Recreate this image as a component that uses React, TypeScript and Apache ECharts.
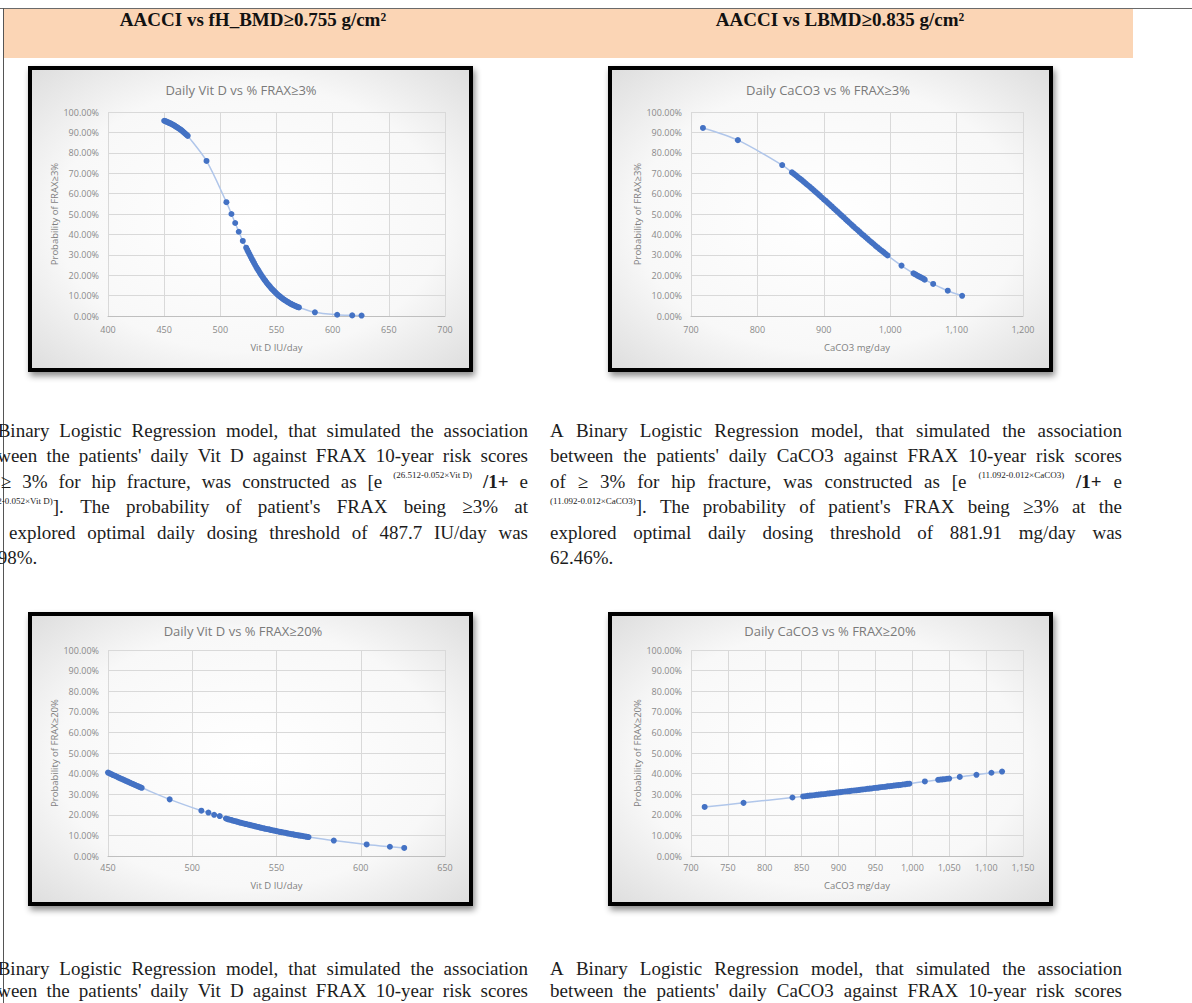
import React, { useEffect, useRef } from "react";
import * as echarts from "echarts";

const PAGE_W = 1192;
const PAGE_H = 1003;

// ---------- Daily Vit D vs % FRAX≥3% ----------
const vitDTicks3 = [400, 450, 500, 550, 600, 650, 700];
const vitD3Dose = [
  450, 451, 452, 453, 454, 455, 456, 457, 458, 459, 460, 461, 462, 463, 464, 465, 466, 467, 468, 469, 470, 471,
  487.7, 505.4, 509.9, 513.2, 516.4, 520.0,
  523, 524, 525, 526, 527, 528, 529, 530, 531, 532, 533, 534, 535, 536, 537, 538, 539, 540, 541, 542,
  543, 544, 545, 546, 547, 548, 549, 550, 551, 552, 553, 554, 555, 556, 557, 558, 559, 560, 561, 562,
  563, 564, 565, 566, 567, 568, 569, 570,
  584.2, 604.0, 617.4, 625.7,
];
const vitD3Prob = [
  95.7, 95.5, 95.3, 95.0, 94.8, 94.5, 94.3, 94.0, 93.7, 93.4, 93.0, 92.7, 92.3, 91.9, 91.6, 91.2, 90.7, 90.3, 89.8, 89.3, 88.8, 88.3,
  76.0, 55.8, 50.0, 45.6, 41.3, 36.8,
  33.5, 32.4, 31.3, 30.2, 29.1, 28.0, 27.0, 26.0, 25.0, 24.0, 23.1, 22.2, 21.3, 20.4, 19.6, 18.8, 18.0, 17.3, 16.5, 15.8,
  15.1, 14.5, 13.8, 13.2, 12.7, 12.1, 11.6, 11.0, 10.5, 10.0, 9.6, 9.1, 8.7, 8.3, 7.9, 7.6, 7.2, 6.9, 6.5, 6.2,
  5.9, 5.6, 5.4, 5.1, 4.9, 4.6, 4.4, 4.2,
  1.8, 0.6, 0.3, 0.2,
];

// ---------- Daily CaCO3 vs % FRAX≥3% ----------
const caco3Ticks3 = [700, 800, 900, 1000, 1100, 1200];
const caco3Dose3 = [
  718.0, 770.6, 837.3,
  852, 855, 858, 861, 864, 867, 870, 873, 876, 879, 882, 885, 888, 891, 894, 897, 900, 903, 906, 909,
  912, 915, 918, 921, 924, 927, 930, 933, 936, 939, 942, 945, 948, 951, 954, 957, 960, 963, 966, 969,
  972, 975, 978, 981, 984, 987, 990, 993, 996,
  1017, 1035, 1038, 1041, 1044, 1047, 1050, 1052, 1064.7, 1086.7, 1108.3,
];
const caco3Prob3 = [
  92.2, 86.2, 74.0,
  70.4, 69.7, 68.9, 68.1, 67.3, 66.6, 65.7, 64.9, 64.1, 63.3, 62.4, 61.6, 60.7, 59.9, 59.0, 58.1, 57.2, 56.4, 55.5, 54.6,
  53.7, 52.8, 51.9, 51.0, 50.1, 49.2, 48.3, 47.4, 46.5, 45.6, 44.7, 43.8, 42.9, 42.1, 41.2, 40.3, 39.5, 38.6, 37.8, 36.9,
  36.1, 35.3, 34.4, 33.6, 32.8, 32.0, 31.3, 30.5, 29.7,
  24.7, 20.9, 20.4, 19.8, 19.3, 18.8, 18.3, 17.8, 15.7, 12.4, 9.9,
];

// ---------- Daily Vit D vs % FRAX≥20% ----------
const vitDTicks20 = [450, 500, 550, 600, 650];
const vitD20Dose = [
  450, 451, 452, 453, 454, 455, 456, 457, 458, 459, 460, 461, 462, 463, 464, 465, 466, 467, 468, 469, 470,
  486.6, 505.4, 509.6, 513.0, 516.3,
  520, 521, 522, 523, 524, 525, 526, 527, 528, 529, 530, 531, 532, 533, 534, 535, 536, 537, 538, 539,
  540, 541, 542, 543, 544, 545, 546, 547, 548, 549, 550, 551, 552, 553, 554, 555, 556, 557, 558, 559,
  560, 561, 562, 563, 564, 565, 566, 567, 568, 569,
  584.0, 603.5, 617.3, 625.8,
];
const vitD20Prob = [
  40.5, 40.1, 39.7, 39.3, 39.0, 38.6, 38.2, 37.8, 37.4, 37.1, 36.7, 36.3, 36.0, 35.6, 35.2, 34.9, 34.5, 34.1, 33.8, 33.4, 33.1,
  27.5, 22.0, 21.1, 20.0, 19.4,
  18.2, 17.9, 17.7, 17.5, 17.2, 17.0, 16.8, 16.6, 16.3, 16.1, 15.9, 15.7, 15.5, 15.3, 15.1, 14.9, 14.7, 14.5, 14.3, 14.1,
  13.9, 13.7, 13.5, 13.3, 13.1, 13.0, 12.8, 12.6, 12.4, 12.3, 12.1, 11.9, 11.7, 11.6, 11.4, 11.3, 11.1, 10.9, 10.8, 10.6,
  10.5, 10.3, 10.2, 10.0, 9.9, 9.8, 9.6, 9.5, 9.3, 9.2,
  7.5, 5.6, 4.5, 3.9,
];

// ---------- Daily CaCO3 vs % FRAX≥20% ----------
const caco3Ticks20 = [700, 750, 800, 850, 900, 950, 1000, 1050, 1100, 1150];
const caco3Dose20 = [
  718.5, 771.2, 837.5,
  852, 855, 858, 861, 864, 867, 870, 873, 876, 879, 882, 885, 888, 891, 894, 897, 900, 903, 906, 909,
  912, 915, 918, 921, 924, 927, 930, 933, 936, 939, 942, 945, 948, 951, 954, 957, 960, 963, 966, 969,
  972, 975, 978, 981, 984, 987, 990, 993, 996,
  1017, 1035, 1038, 1041, 1044, 1047, 1050, 1064.3, 1086.9, 1107.2, 1121.6,
];
const caco3Prob20 = [
  23.8, 25.8, 28.4,
  28.9, 29.0, 29.2, 29.3, 29.4, 29.5, 29.7, 29.8, 29.9, 30.0, 30.1, 30.3, 30.4, 30.5, 30.6, 30.8, 30.9, 31.0, 31.2, 31.3,
  31.4, 31.5, 31.7, 31.8, 31.9, 32.0, 32.2, 32.3, 32.4, 32.6, 32.7, 32.8, 33.0, 33.1, 33.2, 33.4, 33.5, 33.6, 33.8, 33.9,
  34.0, 34.2, 34.3, 34.4, 34.5, 34.7, 34.8, 35.0, 35.1,
  36.2, 37.0, 37.1, 37.2, 37.3, 37.5, 37.6, 38.4, 39.4, 40.4, 41.0,
];

const probTicks = [0, 10, 20, 30, 40, 50, 60, 70, 80, 90, 100];

// ---------- Page text ----------
const headerLeft = "AACCI vs fH_BMD≥0.755 g/cm²";
const headerRight = "AACCI vs LBMD≥0.835 g/cm²";

// ^{...} marks superscript, **...** marks bold
const paraVitD3 = [
  "A Binary Logistic Regression model, that simulated the association",
  "between the patients' daily Vit D against FRAX 10-year risk scores",
  "of ≥ 3% for hip fracture, was constructed as [e ^{(26.512-0.052×Vit D)} **/1+** e",
  "^{(26.512-0.052×Vit D)}]. The probability of patient's FRAX being ≥3% at",
  "the explored optimal daily dosing threshold of 487.7 IU/day was",
  "75.98%.",
];
const paraCaco3 = [
  "A Binary Logistic Regression model, that simulated the association",
  "between the patients' daily CaCO3 against FRAX 10-year risk scores",
  "of ≥ 3% for hip fracture, was constructed as [e ^{(11.092-0.012×CaCO3)} **/1+** e",
  "^{(11.092-0.012×CaCO3)}]. The probability of patient's FRAX being ≥3% at the",
  "explored optimal daily dosing threshold of 881.91 mg/day was",
  "62.46%.",
];
const paraVitD20 = [
  "A Binary Logistic Regression model, that simulated the association",
  "between the patients' daily Vit D against FRAX 10-year risk scores",
];
const paraCaco20 = [
  "A Binary Logistic Regression model, that simulated the association",
  "between the patients' daily CaCO3 against FRAX 10-year risk scores",
];

const SERIF = '"Liberation Serif", "Times New Roman", serif';
const SANS = '"Open Sans", "Noto Sans", sans-serif';
const BODY_SIZE = 19;
const SUP_SIZE = 9;

type Run = { t: string; sup?: boolean; bold?: boolean };

let measureCtx: CanvasRenderingContext2D | null = null;
function textWidth(t: string, size: number, bold?: boolean) {
  if (!measureCtx) measureCtx = document.createElement("canvas").getContext("2d");
  measureCtx!.font = `${bold ? "bold " : ""}${size}px ${SERIF}`;
  return measureCtx!.measureText(t).width;
}

function tokenize(line: string): Run[][] {
  const kept = line.replace(/\^\{[^}]*\}/g, (m) => m.replace(/ /g, "\u00a0"));
  return kept
    .split(" ")
    .filter(Boolean)
    .map((tok) => {
      const runs: Run[] = [];
      const re = /\^\{([^}]*)\}|\*\*([^*]*)\*\*|([^^*]+)/g;
      let m: RegExpExecArray | null;
      while ((m = re.exec(tok))) {
        if (m[1] !== undefined) runs.push({ t: m[1], sup: true });
        else if (m[2] !== undefined) runs.push({ t: m[2], bold: true });
        else runs.push({ t: m[3] });
      }
      return runs;
    });
}

function runWidth(r: Run) {
  return textWidth(r.t, r.sup ? SUP_SIZE : BODY_SIZE, r.bold);
}

// Justified paragraph made of word-level text elements
function paragraph(lines: string[], x0: number, x1: number, ys: number[], lastJustified: boolean) {
  const out: any[] = [];
  const space = textWidth(" ", BODY_SIZE);
  lines.forEach((line, li) => {
    const tokens = tokenize(line);
    const widths = tokens.map((tk) => tk.reduce((s, r) => s + runWidth(r), 0));
    const total = widths.reduce((a, b) => a + b, 0);
    const justify = li < lines.length - 1 || lastJustified;
    const gap = justify && tokens.length > 1 ? (x1 - x0 - total) / (tokens.length - 1) : space;
    let x = x0;
    tokens.forEach((tk, ti) => {
      let rx = x;
      tk.forEach((r) => {
        out.push({
          type: "text",
          x: rx,
          y: r.sup ? ys[li] - 6 : ys[li],
          silent: true,
          style: {
            text: r.t,
            fill: "#1c1c1c",
            fontSize: r.sup ? SUP_SIZE : BODY_SIZE,
            fontFamily: SERIF,
            fontWeight: r.bold ? "bold" : "normal",
            align: "left",
            verticalAlign: "middle",
          },
        });
        rx += runWidth(r);
      });
      x += widths[ti] + gap;
    });
  });
  return out;
}

type ChartSpec = {
  title: string;
  xName: string;
  yName: string;
  xTicks: number[];
  dose: number[];
  prob: number[];
  thousands: boolean;
  frame: { x: number; y: number; w: number; h: number };
  grid: { left: number; top: number; width: number; height: number };
  titleX: number;
  titleTop: number;
  yNameGap: number;
  xNameGap: number;
  xLabelMargin: number;
};

const specs: ChartSpec[] = [
  {
    title: "Daily Vit D vs % FRAX≥3%",
    xName: "Vit D IU/day",
    yName: "Probability of FRAX≥3%",
    xTicks: vitDTicks3,
    dose: vitD3Dose,
    prob: vitD3Prob,
    thousands: false,
    frame: { x: 30, y: 68, w: 441, h: 302 },
    grid: { left: 108, top: 112, width: 337, height: 204 },
    titleX: 241,
    titleTop: 83,
    yNameGap: 46,
    xNameGap: 26,
    xLabelMargin: 9,
  },
  {
    title: "Daily CaCO3 vs % FRAX≥3%",
    xName: "CaCO3 mg/day",
    yName: "Probability of FRAX≥3%",
    xTicks: caco3Ticks3,
    dose: caco3Dose3,
    prob: caco3Prob3,
    thousands: true,
    frame: { x: 610, y: 68, w: 441, h: 302 },
    grid: { left: 691, top: 112, width: 332, height: 204 },
    titleX: 828,
    titleTop: 83,
    yNameGap: 48,
    xNameGap: 26,
    xLabelMargin: 9,
  },
  {
    title: "Daily Vit D vs % FRAX≥20%",
    xName: "Vit D IU/day",
    yName: "Probability of FRAX≥20%",
    xTicks: vitDTicks20,
    dose: vitD20Dose,
    prob: vitD20Prob,
    thousands: false,
    frame: { x: 30, y: 614, w: 441, h: 290 },
    grid: { left: 108, top: 650, width: 337, height: 206 },
    titleX: 243,
    titleTop: 624,
    yNameGap: 46,
    xNameGap: 24,
    xLabelMargin: 7,
  },
  {
    title: "Daily CaCO3 vs % FRAX≥20%",
    xName: "CaCO3 mg/day",
    yName: "Probability of FRAX≥20%",
    xTicks: caco3Ticks20,
    dose: caco3Dose20,
    prob: caco3Prob20,
    thousands: true,
    frame: { x: 610, y: 614, w: 441, h: 290 },
    grid: { left: 691, top: 650, width: 332, height: 206 },
    titleX: 830,
    titleTop: 624,
    yNameGap: 48,
    xNameGap: 24,
    xLabelMargin: 7,
  },
];

const AXIS_TEXT = "#8a8a8a";
const GRID_LINE = "#d9d9d9";

function buildOption() {
  const grid = specs.map((s) => ({ ...s.grid }));
  const title = specs.map((s) => ({
    text: s.title,
    left: s.titleX,
    top: s.titleTop,
    textAlign: "center",
    padding: 0,
    textStyle: { fontSize: 13, fontWeight: "normal", color: "#7a7a7a", fontFamily: SANS },
  }));
  const xAxis = specs.map((s, i) => ({
    type: "value",
    gridIndex: i,
    min: s.xTicks[0],
    max: s.xTicks[s.xTicks.length - 1],
    interval: s.xTicks[1] - s.xTicks[0],
    name: s.xName,
    nameLocation: "middle",
    nameGap: s.xNameGap,
    nameTextStyle: { fontSize: 9.5, color: "#7f7f7f", fontFamily: SANS },
    axisLine: { show: true, lineStyle: { color: "#bfbfbf", width: 1 } },
    axisTick: { show: false },
    axisLabel: {
      fontSize: 9,
      color: AXIS_TEXT,
      fontFamily: SANS,
      margin: s.xLabelMargin,
      formatter: (v: number) => (s.thousands ? v.toLocaleString("en-US") : String(v)),
    },
    splitLine: { show: true, lineStyle: { color: GRID_LINE, width: 1 } },
  }));
  const yAxis = specs.map((s, i) => ({
    type: "value",
    gridIndex: i,
    min: probTicks[0],
    max: probTicks[probTicks.length - 1],
    interval: probTicks[1] - probTicks[0],
    name: s.yName,
    nameLocation: "middle",
    nameRotate: 90,
    nameGap: s.yNameGap,
    nameTextStyle: { fontSize: 9.5, color: "#7f7f7f", fontFamily: SANS },
    axisLine: { show: false },
    axisTick: { show: false },
    axisLabel: {
      fontSize: 9,
      color: AXIS_TEXT,
      fontFamily: SANS,
      margin: 9,
      formatter: (v: number) => `${v.toFixed(2)}%`,
    },
    splitLine: { show: true, lineStyle: { color: GRID_LINE, width: 1 } },
  }));
  const series = specs.map((s, i) => ({
    type: "line",
    xAxisIndex: i,
    yAxisIndex: i,
    data: s.dose.map((d, k) => [d, s.prob[k]]),
    smooth: 0.3,
    symbol: "circle",
    symbolSize: 6,
    showSymbol: true,
    itemStyle: { color: "#4472c4" },
    lineStyle: { color: "#b0c6ea", width: 1.5 },
    z: 3,
  }));

  const frames = specs.map((s) => ({
    type: "rect",
    z: -10,
    silent: true,
    shape: { x: s.frame.x, y: s.frame.y, width: s.frame.w, height: s.frame.h },
    style: {
      fill: {
        type: "radial",
        x: 0.5,
        y: 0.5,
        r: 0.8,
        colorStops: [
          { offset: 0, color: "#ffffff" },
          { offset: 0.55, color: "#f8f8f8" },
          { offset: 1, color: "#d4d4d4" },
        ],
      },
      stroke: "#000000",
      lineWidth: 4,
      shadowBlur: 6,
      shadowOffsetX: 2,
      shadowOffsetY: 4,
      shadowColor: "rgba(0,0,0,0.45)",
    },
  }));

  const pageDecor: any[] = [
    {
      type: "rect",
      z: -20,
      silent: true,
      shape: { x: 4, y: 9, width: 1129, height: 49 },
      style: { fill: "#fbd5b5" },
    },
    {
      type: "line",
      z: -5,
      silent: true,
      shape: { x1: 0, y1: 8.5, x2: PAGE_W, y2: 8.5 },
      style: { stroke: "#6a6a6a", lineWidth: 1 },
    },
    {
      type: "line",
      z: -5,
      silent: true,
      shape: { x1: 3.5, y1: 8, x2: 3.5, y2: PAGE_H },
      style: { stroke: "#555555", lineWidth: 1 },
    },
    {
      type: "text",
      x: 253,
      y: 19,
      silent: true,
      style: { text: headerLeft, fill: "#111", fontSize: 19, fontWeight: "bold", fontFamily: SERIF, align: "center", verticalAlign: "middle" },
    },
    {
      type: "text",
      x: 840,
      y: 19,
      silent: true,
      style: { text: headerRight, fill: "#111", fontSize: 19, fontWeight: "bold", fontFamily: SERIF, align: "center", verticalAlign: "middle" },
    },
  ];

  const topYs = [430, 455.5, 481, 506.5, 532, 557.5];
  const bottomYs = [968, 990];
  const texts = [
    ...paragraph(paraVitD3, -26, 528, topYs, false),
    ...paragraph(paraCaco3, 550, 1122, topYs, false),
    ...paragraph(paraVitD20, -26, 528, bottomYs, true),
    ...paragraph(paraCaco20, 550, 1122, bottomYs, true),
  ];

  return {
    animation: false,
    backgroundColor: "#ffffff",
    title,
    grid,
    xAxis,
    yAxis,
    series,
    graphic: { elements: [...pageDecor, ...frames, ...texts] },
  };
}

export default function App() {
  const ref = useRef<HTMLDivElement>(null);
  useEffect(() => {
    if (!ref.current) return;
    const chart = echarts.init(ref.current, undefined, { renderer: "svg" });
    chart.setOption(buildOption() as any);
    return () => chart.dispose();
  }, []);
  return (
    <div
      ref={ref}
      style={{ position: "fixed", left: 0, top: 0, width: PAGE_W, height: PAGE_H, background: "#fff" }}
    />
  );
}
